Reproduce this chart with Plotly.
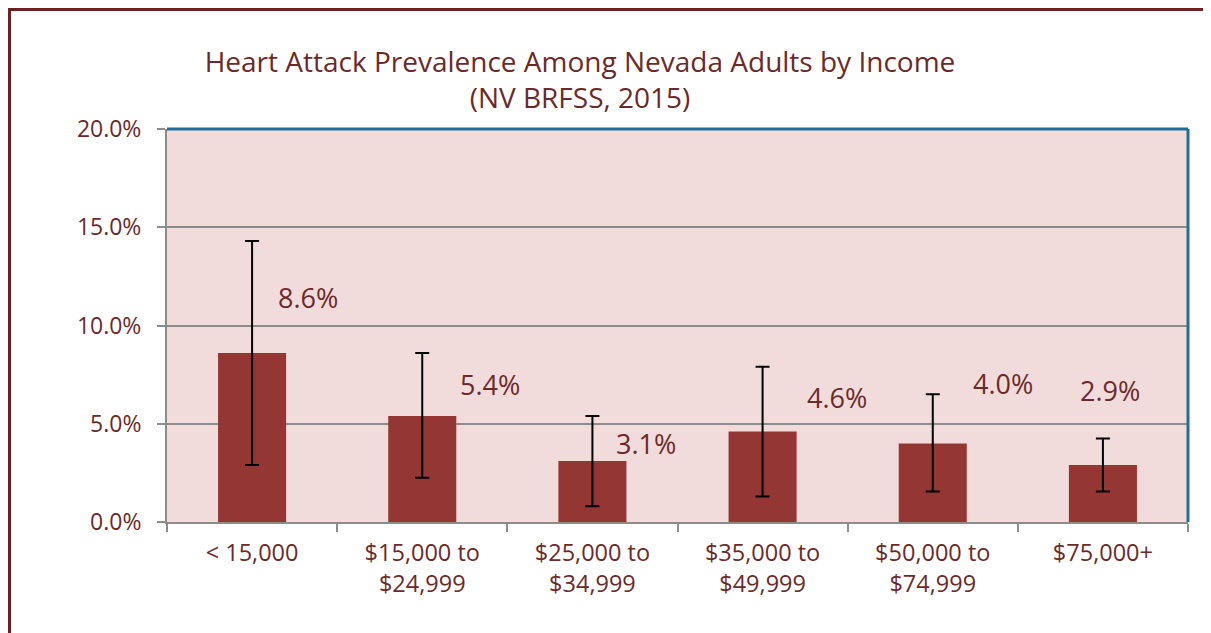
import plotly.graph_objects as go

# income groups and prevalence (%) with 95% CI bounds
income = ["< 15,000", "$15,000 to<br>$24,999", "$25,000 to<br>$34,999",
          "$35,000 to<br>$49,999", "$50,000 to<br>$74,999", "$75,000+"]
prevalence = [8.6, 5.4, 3.1, 4.6, 4.0, 2.9]
ci_upper = [14.3, 8.6, 5.4, 7.9, 6.5, 4.25]
ci_lower = [2.9, 2.25, 0.8, 1.3, 1.55, 1.55]
labels = ["8.6%", "5.4%", "3.1%", "4.6%", "4.0%", "2.9%"]

# label placement (Excel-style manual placement)
label_y = [11.4, 7.0, 4.0, 6.35, 7.05, 6.7]
label_dx = [56, 68, 54, 74, 70, 7]

txt = "#6B2A2A"
font = "Open Sans"

# plot area in figure pixels
L, T, W, H = 159, 121, 1021, 393

fig = go.Figure()
fig.add_trace(go.Bar(
    x=income, y=prevalence, width=0.4,
    marker=dict(color="#943634", line=dict(width=0)),
    error_y=dict(type="data", symmetric=False,
                 array=[u - v for u, v in zip(ci_upper, prevalence)],
                 arrayminus=[v - l for v, l in zip(prevalence, ci_lower)],
                 color="black", thickness=2, width=7),
))

for x, y, dx, t in zip(income, label_y, label_dx, labels):
    fig.add_annotation(x=x, y=y, text=t, showarrow=False, xshift=dx,
                       font=dict(size=27, color=txt, family=font))

fig.update_layout(
    width=1211, height=633,
    margin=dict(l=L, r=1211 - L - W, t=T, b=633 - T - H),
    paper_bgcolor="white", plot_bgcolor="#F2DCDB",
    showlegend=False,
    title=dict(text="Heart Attack Prevalence Among Nevada Adults by Income<br>(NV BRFSS, 2015)",
               x=(572 - L) / W, xref="paper", xanchor="center",
               y=1 - 64 / 633, yanchor="middle",
               font=dict(size=28, color=txt, family=font)),
    font=dict(family=font, color=txt),
)
fig.update_xaxes(
    showline=True, linecolor="#8C8C8C", linewidth=2,
    ticks="outside", tickson="boundaries", ticklen=8, tickcolor="#8C8C8C", tickwidth=2,
    ticklabelstandoff=9,
    tickfont=dict(size=23.5, color=txt, family=font),
    showgrid=False,
)
fig.update_yaxes(
    range=[0, 20], dtick=5, tickformat=".1f", ticksuffix="%",
    showline=True, linecolor="#8C8C8C", linewidth=2,
    ticks="outside", ticklen=8, tickcolor="#8C8C8C", tickwidth=2,
    ticklabelstandoff=11,
    tickfont=dict(size=23, color=txt, family=font),
    showgrid=True, gridcolor="#8C8C8C", gridwidth=2, zeroline=False,
)

# blue top and right plot-area border
fig.add_shape(type="line", xref="paper", yref="paper", x0=0, x1=1, y0=1, y1=1,
              line=dict(color="#1F6E9C", width=3))
fig.add_shape(type="line", xref="paper", yref="paper", x0=1, x1=1, y0=0, y1=1,
              line=dict(color="#1F6E9C", width=3))
# dark red page frame
fig.add_shape(type="rect", xref="paper", yref="paper",
              x0=(1 - L) / W, x1=1.2, y0=(T + H - 1) / H, y1=-0.6,
              line=dict(color="#6B2226", width=4))

fig.write_html("out.html")
